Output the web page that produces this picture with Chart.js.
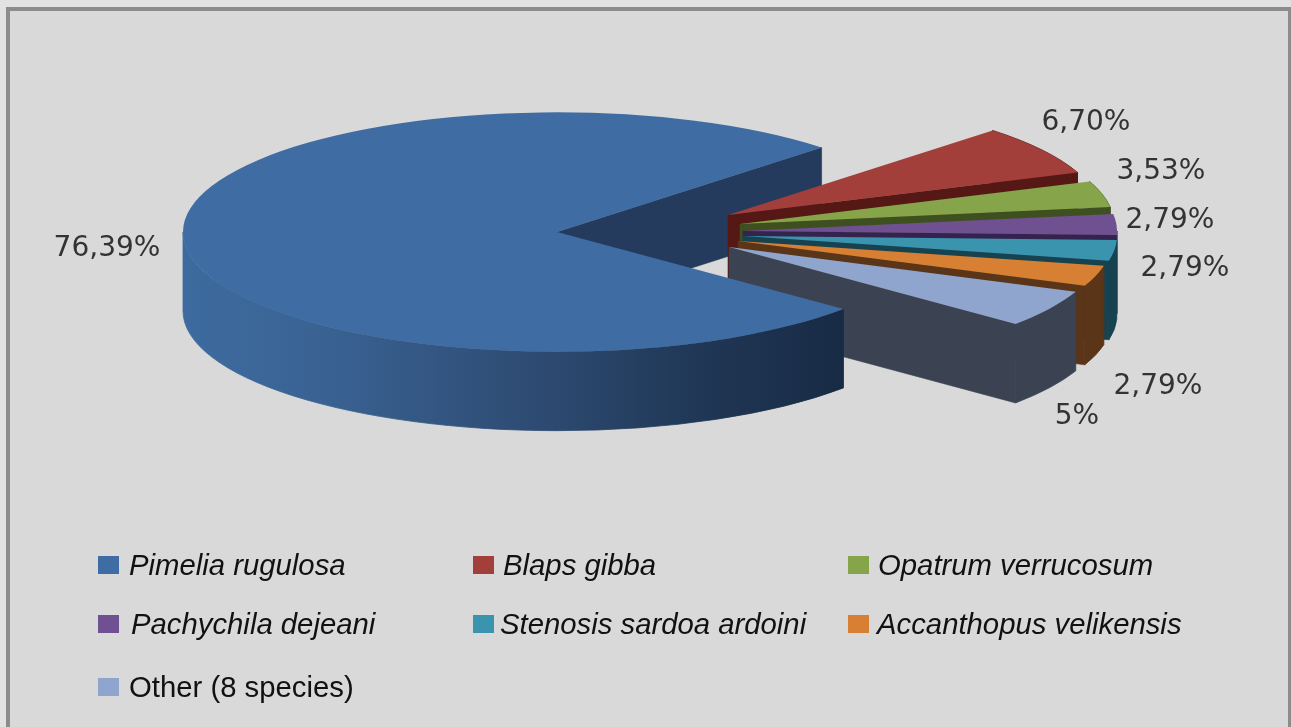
<!DOCTYPE html>
<html>
<head>
<meta charset="utf-8">
<style>html,body{margin:0;padding:0;background:#e2e2e2;overflow:hidden}canvas{display:block;filter:blur(0.5px)}</style>
<script src="https://cdn.jsdelivr.net/npm/chart.js@4/dist/chart.umd.min.js"></script>
</head>
<body>
<canvas id="c" width="1291" height="727"></canvas>
<script>
const categories = ['Pimelia rugulosa','Blaps gibba','Opatrum verrucosum','Pachychila dejeani','Stenosis sardoa ardoini','Accanthopus velikensis','Other (8 species)'];
const values = [76.39,6.70,3.53,2.79,2.79,2.79,5];
const valueLabels = ['76,39%','6,70%','3,53%','2,79%','2,79%','2,79%','5%'];
const sliceColors = ['#3f6da3','#a33f3b','#86a54a','#6f5090','#3a94ad','#d77f33','#8fa5cd'];
const wallColors = ['#243b5d','#551815','#3f5020','#35234f','#174250','#5a3517','#3b4353'];

const SQUASH = 0.32, DEPTH = 79, CY = 232;
/* screen displacement of each exploded slice's apex from the pie centre */
const explode = [[0,0],[171,-17],[183,-8],[186,-1],[186,4],[181,9],[172,15]];
const labelAnchors = [[107,249],[1086,123],[1161,172],[1170,221],[1185,269],[1158,387],[1077,417]];
const legendCells = [[98,129,565],[473,503,565],[848,878,565],[98,131,624],[473,500,624],[848,877,624],[98,129,687]];

const scr = a => ({x:a.x, y:CY+(a.y-CY)*SQUASH, rx:a.outerRadius, ry:a.outerRadius*SQUASH});
const at = (s,ang) => [s.x+s.rx*Math.cos(ang), s.y+s.ry*Math.sin(ang)];

function radialWall(ctx,a,ang,color){
  const s=scr(a), p=at(s,ang);
  ctx.fillStyle=color; ctx.strokeStyle=color; ctx.lineWidth=.6;
  ctx.beginPath();
  ctx.moveTo(s.x,s.y); ctx.lineTo(p[0],p[1]); ctx.lineTo(p[0],p[1]+DEPTH); ctx.lineTo(s.x,s.y+DEPTH);
  ctx.closePath(); ctx.fill(); ctx.stroke();
}
function rimWall(ctx,a,a0,a1,fill){
  const s=scr(a);
  ctx.fillStyle=fill; ctx.strokeStyle=fill; ctx.lineWidth=.8;
  ctx.beginPath();
  ctx.ellipse(s.x,s.y,s.rx,s.ry,0,a0,a1,false);
  ctx.ellipse(s.x,s.y+DEPTH,s.rx,s.ry,0,a1,a0,true);
  ctx.closePath(); ctx.fill(); ctx.stroke();
}
const pie3d = {
  id:'pie3d',
  afterDatasetsUpdate(chart){
    chart.getDatasetMeta(0).data.forEach((arc,i)=>{
      arc.x += explode[i][0];
      arc.y += explode[i][1]/SQUASH;
    });
  },
  beforeDatasetsDraw(chart){
    const ctx=chart.ctx, arcs=chart.getDatasetMeta(0).data, blue=arcs[0];
    ctx.save();
    /* inner wall of the large slice, behind the exploded ones */
    radialWall(ctx,blue,blue.endAngle,wallColors[0]);
    /* exploded slices, back to front */
    for(let i=1;i<arcs.length;i++){
      const a=arcs[i], st=a.startAngle, en=a.endAngle;
      radialWall(ctx,a,en,wallColors[i]);
      const lo=Math.max(st,Math.floor(en/(2*Math.PI))*2*Math.PI);
      if(en>lo) rimWall(ctx,a,lo,en,wallColors[i]);
    }
    /* visible rim of the large slice */
    const g=ctx.createLinearGradient(183,0,842,0);
    g.addColorStop(0,'#3d6b9f');
    g.addColorStop(.2,'#3a6394');
    g.addColorStop(.55,'#2d4a71');
    g.addColorStop(.8,'#1f3654');
    g.addColorStop(1,'#182b45');
    rimWall(ctx,blue,blue.startAngle,Math.PI,g);
    ctx.restore();
    ctx.save();
    ctx.translate(0,CY); ctx.scale(1,SQUASH); ctx.translate(0,-CY);
  },
  afterDatasetsDraw(chart){
    const ctx=chart.ctx;
    ctx.restore();
    ctx.save();
    ctx.fillStyle='#333333';
    ctx.font='28px "DejaVu Sans"';
    ctx.textAlign='center'; ctx.textBaseline='middle';
    valueLabels.forEach((t,i)=>ctx.fillText(t,labelAnchors[i][0],labelAnchors[i][1]));
    ctx.textAlign='left';
    chart.data.labels.forEach((name,i)=>{
      const [sx,tx,y]=legendCells[i];
      ctx.fillStyle=sliceColors[i];
      ctx.fillRect(sx,y-9,21,18);
      ctx.fillStyle='#111111';
      ctx.font=(i<6?'italic ':'')+'29.3px "Liberation Sans"';
      ctx.fillText(name,tx,y+2);
    });
    ctx.restore();
  }
};
const frame = {
  id:'frame',
  beforeDraw(chart){
    const ctx=chart.ctx;
    ctx.save();
    ctx.fillStyle='#e2e2e2'; ctx.fillRect(0,0,1291,727);
    ctx.fillStyle='#8c8c8c'; ctx.fillRect(6,7,1285,720);
    ctx.fillStyle='#d9d9d9'; ctx.fillRect(10,11,1278,716);
    ctx.restore();
  }
};
new Chart(document.getElementById('c'),{
  type:'pie',
  data:{labels:categories,datasets:[{data:values,backgroundColor:sliceColors,borderWidth:0,clip:false}]},
  options:{
    responsive:false,animation:false,rotation:130,radius:374,
    layout:{padding:{left:0,right:177,top:0,bottom:263}},
    plugins:{legend:{display:false},tooltip:{enabled:false},title:{display:false}}
  },
  plugins:[frame,pie3d]
});
</script>
</body>
</html>
